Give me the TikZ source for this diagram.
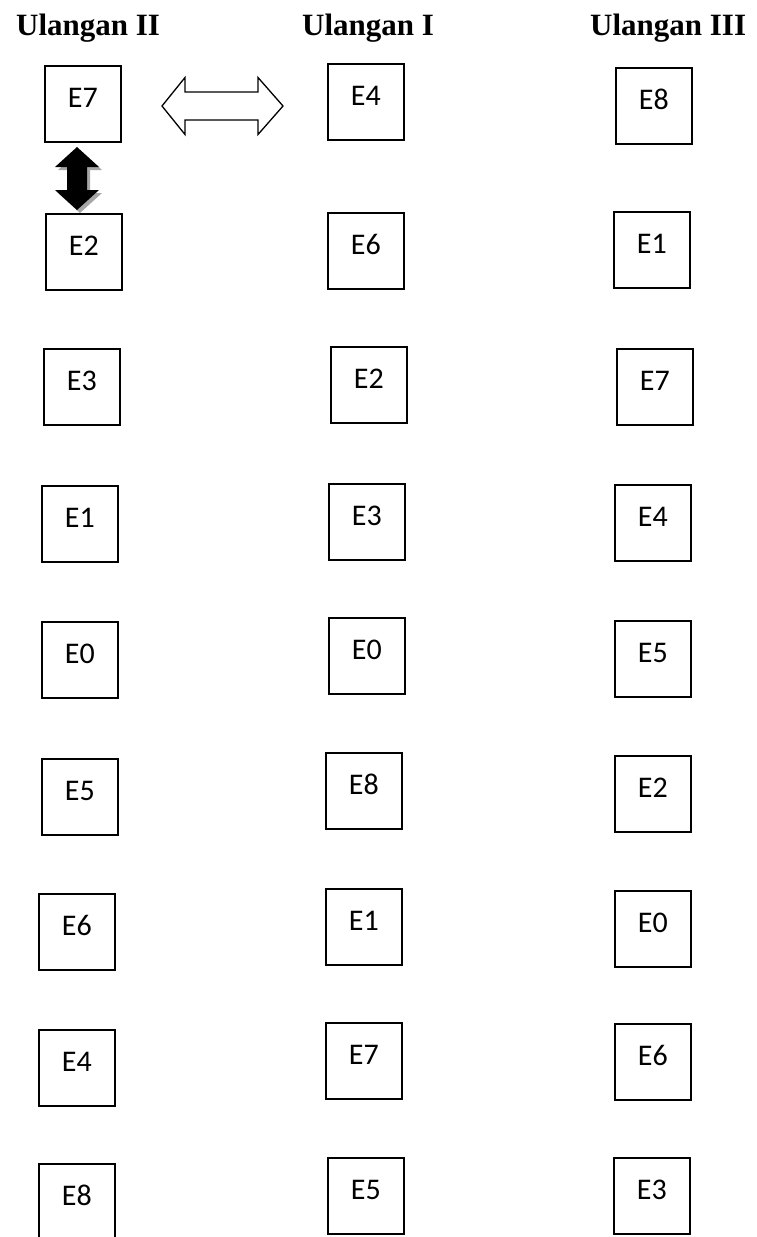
\documentclass[tikz,border=0pt]{standalone}
\usepackage{fontspec}
\newfontfamily\hdrfont{Liberation Serif}
\newfontfamily\boxfont{Carlito}
\begin{document}
\begin{tikzpicture}[x=1pt,y=-1pt,
  ebox/.style={draw,line width=1.6pt,anchor=north west,minimum width=76pt,minimum height=76pt,
    inner sep=0pt,text height=8pt,text depth=0pt,font=\boxfont\fontsize{30}{30}\selectfont},
  hdr/.style={anchor=base west,inner sep=0pt,font=\hdrfont\bfseries\fontsize{31}{31}\selectfont},
  whitearrow/.style={draw,line width=1.3pt,fill=white,line join=miter},
  blackarrow/.style={fill=black},
  shadowarrow/.style={fill=black!35}]
\useasboundingbox (0,0) rectangle (757,1237);
\clip (0,0) rectangle (757,1237);
% headers
\node[hdr] (h2) at (16,35) {Ulangan II};
\node[hdr] (h1) at (302,35) {Ulangan I};
\node[hdr] (h3) at (590,35) {Ulangan III};
% column Ulangan II
\node[ebox] (a1) at (44,65) {E7};
\node[ebox] (a2) at (45,213) {E2};
\node[ebox] (a3) at (43,348) {E3};
\node[ebox] (a4) at (41,485) {E1};
\node[ebox] (a5) at (41,621) {E0};
\node[ebox] (a6) at (41,758) {E5};
\node[ebox] (a7) at (38,893) {E6};
\node[ebox] (a8) at (38,1029) {E4};
\node[ebox] (a9) at (38,1163) {E8};
% column Ulangan I
\node[ebox] (b1) at (327,63) {E4};
\node[ebox] (b2) at (327,212) {E6};
\node[ebox] (b3) at (330,346) {E2};
\node[ebox] (b4) at (328,483) {E3};
\node[ebox] (b5) at (328,617) {E0};
\node[ebox] (b6) at (325,752) {E8};
\node[ebox] (b7) at (325,888) {E1};
\node[ebox] (b8) at (325,1022) {E7};
\node[ebox] (b9) at (327,1157) {E5};
% column Ulangan III
\node[ebox] (c1) at (615,67) {E8};
\node[ebox] (c2) at (613,211) {E1};
\node[ebox] (c3) at (616,348) {E7};
\node[ebox] (c4) at (614,484) {E4};
\node[ebox] (c5) at (614,620) {E5};
\node[ebox] (c6) at (614,755) {E2};
\node[ebox] (c7) at (614,890) {E0};
\node[ebox] (c8) at (614,1023) {E6};
\node[ebox] (c9) at (613,1157) {E3};
% white horizontal double arrow
\path[whitearrow] (162,106) -- (185,77.5) -- (185,92) -- (258,92) -- (258,77.5) -- (283,106)
  -- (258,134.5) -- (258,120) -- (185,120) -- (185,134.5) -- cycle;
% black vertical double arrow with shadow
\path[shadowarrow,shift={(3,3)}] (77,147) -- (99,167) -- (87,167) -- (87,190) -- (99,190) -- (77,210)
  -- (55,190) -- (67,190) -- (67,167) -- (55,167) -- cycle;
\path[blackarrow] (77,147) -- (99,167) -- (87,167) -- (87,190) -- (99,190) -- (77,210)
  -- (55,190) -- (67,190) -- (67,167) -- (55,167) -- cycle;
\end{tikzpicture}
\end{document}
